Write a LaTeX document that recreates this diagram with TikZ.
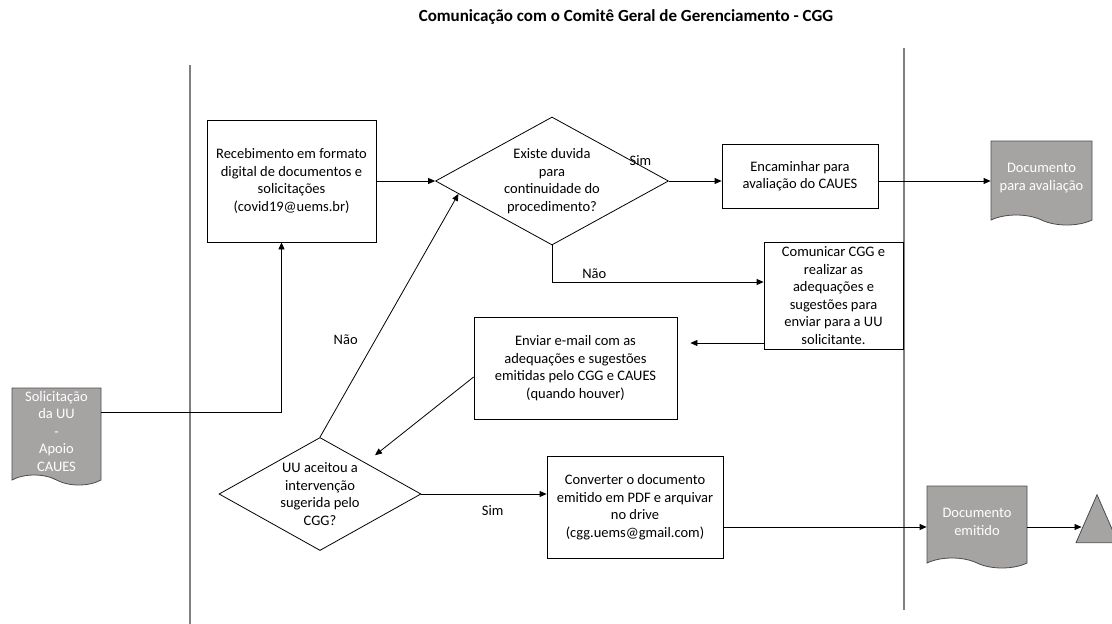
\documentclass[tikz,border=0pt]{standalone}
\usepackage{fontspec}
\setmainfont{Carlito}
\usetikzlibrary{arrows.meta, shapes.geometric, shapes.symbols, positioning, calc}
\definecolor{docgray}{RGB}{166,163,163}
\definecolor{lanegray}{RGB}{128,128,128}

\begin{document}
\begin{tikzpicture}[x=1pt, y=-1pt, font=\fontsize{14.5}{17.5}\selectfont,
		box/.style = {draw, line width=0.8pt, align=center, inner sep=2pt},
		choice/.style = {draw, line width=0.8pt, diamond, align=center, inner sep=0pt},
		docbox/.style = {tape, tape bend top=none, tape bend bottom=out and in, tape bend height=10pt, draw=black!70, line width=0.8pt, fill=docgray, text=white, align=center, inner sep=2pt},
		arr/.style = {-{Triangle[length=7pt, width=6pt]}, line width=0.8pt},
		lane/.style = {lanegray, line width=1.5pt}]
		\useasboundingbox (0,0) rectangle (1112,624);
		% Title
		\node[font=\fontsize{17}{20}\selectfont\bfseries] (title) at (626,17) {Comunicação com o Comitê Geral de Gerenciamento - CGG};
		% Lanes
		\draw[lane] (190,65) -- (190,624);
		\draw[lane] (904,48) -- (904,610);
		% Steps
		\node[docbox, minimum width=89, minimum height=97] (sol) at (56.5,431.5) {Solicitação\\da UU\\-\\Apoio\\CAUES};
		\node[box, minimum width=169, minimum height=122] (recv) at (291.5,181) {Recebimento em formato\\digital de documentos e\\solicitações\\(covid19@uems.br)};
		\node[choice, aspect=1.82, minimum width=233, minimum height=128] (q1) at (552,181) {Existe duvida\\para\\continuidade do\\procedimento?};
		\node[box, minimum width=156, minimum height=64] (fwd) at (800,176) {Encaminhar para\\avaliação do CAUES};
		\node[docbox, minimum width=101, minimum height=84] (docav) at (1041.5,178) {Documento\\para avaliação};
		\node[box, minimum width=139, minimum height=107] (comm) at (833.5,295.5) {Comunicar CGG e\\realizar as\\adequações e\\sugestões para\\enviar para a UU\\solicitante.};
		\node[box, minimum width=203, minimum height=102] (send) at (575.5,368) {Enviar e-mail com as\\adequações e sugestões\\emitidas pelo CGG e CAUES\\(quando houver)};
		\node[choice, aspect=1.79, minimum width=202, minimum height=113] (q2) at (320,494) {UU aceitou a\\intervenção\\sugerida pelo\\CGG?};
		\node[box, minimum width=176, minimum height=102] (conv) at (635,507) {Converter o documento\\emitido em PDF e arquivar\\no drive\\(cgg.uems@gmail.com)};
		\node[docbox, minimum width=100, minimum height=82] (docem) at (977,522) {Documento\\emitido};
		\node[draw=black!70, line width=0.8pt, fill=docgray, isosceles triangle, isosceles triangle stretches, shape border rotate=90, minimum width=42, minimum height=48, inner sep=0pt] (stop) at (1097,529) {};
		% Connectors
		\draw[arr] ([yshift=19.5]sol.east) -| ([xshift=-10]recv.south);
		\draw[arr] (recv.east) -- (q1.west);
		\draw[arr] (q1.east) -- node[pos=0, above left=12pt and 14pt] {Sim} (q1.east -| fwd.west);
		\draw[arr] (q1.east -| fwd.east) -- (q1.east -| docav.west);
		\draw[arr] (q1.south) |- node[pos=0.6, above] {Não} ([yshift=13.5]comm.west);
		\draw[arr, shorten >=13pt] ([yshift=-47.5]comm.west) -- ([yshift=-47.5]comm.west -| send.east);
		\draw[arr, shorten >=12pt] ([yshift=-9]send.west) -- ($(q2.north)!0.45!(q2.east)$);
		\draw[arr] (q2.north) -- node[pos=0.4, left=14pt] {Não} ($(q1.west)!0.2!(q1.south)$);
		\draw[arr] (q2.east) -- node[pos=0.57, below=8pt] {Sim} (q2.east -| conv.west);
		\draw[arr] ([yshift=-20]conv.east) -- ([yshift=-20]conv.east -| docem.west);
		\draw[arr] ([yshift=-5]docem.east) -- ([yshift=-5]docem.east -| stop.west);
	\end{tikzpicture}
\end{document}
